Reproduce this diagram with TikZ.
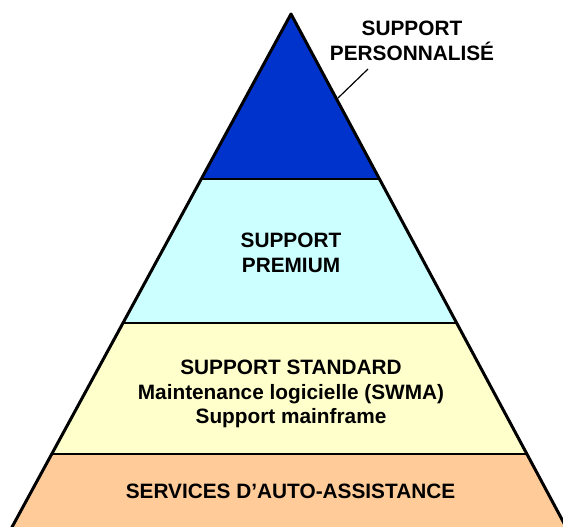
\documentclass[tikz,border=0pt]{standalone}
\usepackage{fontspec}
\setmainfont{Liberation Sans}
\usepackage{tikz}
\usetikzlibrary{positioning}
\definecolor{darkblue}{HTML}{0033CC}
\definecolor{lightcyan}{HTML}{CCFFFF}
\definecolor{lightyellow}{HTML}{FFFFCC}
\definecolor{peach}{HTML}{FFCC99}
\tikzset{
  band/.style={draw=black, line width=1.2pt},
  edge/.style={draw=black, line width=3pt, line join=round},
  label/.style={font=\bfseries\fontsize{20.8}{24.5}\selectfont, align=center, inner sep=0pt, anchor=north},
}

\begin{document}
\begin{tikzpicture}[x=1pt, y=-1pt]
\useasboundingbox (0,0) rectangle (563,527);
\clip (0,0) rectangle (563,527);

% pyramid corners
\coordinate (apex) at (291, 14);
\coordinate (l1) at (201.3, 179); \coordinate (r1) at (379.4, 179);
\coordinate (l2) at (122.9, 323); \coordinate (r2) at (456.7, 323);
\coordinate (l3) at ( 51.7, 454); \coordinate (r3) at (526.9, 454);
\coordinate (l4) at (  5.0, 540); \coordinate (r4) at (573.0, 540);

% bands, top to bottom
\fill[darkblue] (apex) -- (r1) -- (l1) -- cycle;
\fill[lightcyan] (l1) -- (r1) -- (r2) -- (l2) -- cycle;
\fill[lightyellow] (l2) -- (r2) -- (r3) -- (l3) -- cycle;
\fill[peach] (l3) -- (r3) -- (r4) -- (l4) -- cycle;

\draw[band] (l1) -- (r1);
\draw[band] (l2) -- (r2);
\draw[band] (l3) -- (r3);
\draw[edge] (l4) -- (apex) -- (r4);

% labels
\node[label] (perso) at (412, 21) {SUPPORT\\PERSONNALIS\'E};
\node[label] (premium) at (291, 233) {SUPPORT\\PREMIUM};
\node[label] (standard) at (291, 360) {SUPPORT STANDARD\\Maintenance logicielle (SWMA)\\Support mainframe};
\node[label] (selfhelp) at (290.5, 484) {SERVICES D’AUTO-ASSISTANCE};

% leader to the top band
\coordinate (leadtop) at (368, 69);
\coordinate (leadend) at (338, 98);
\draw[line width=1.2pt] (leadtop) -- (leadend);
\end{tikzpicture}
\end{document}
